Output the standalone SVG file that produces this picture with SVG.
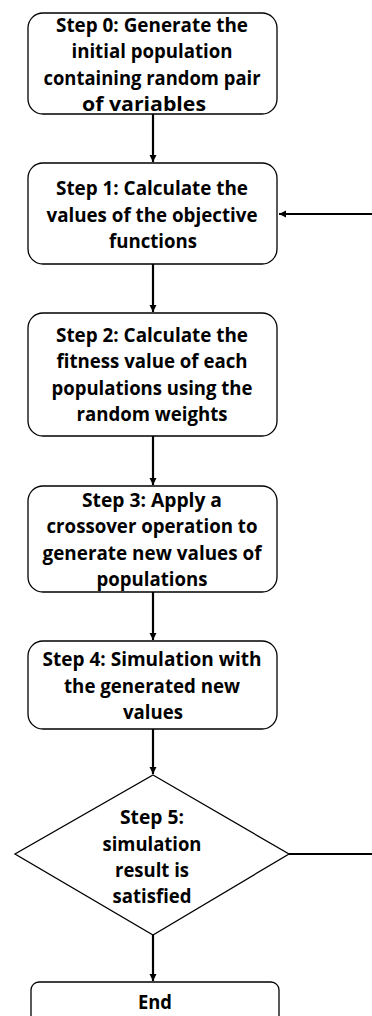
<svg xmlns="http://www.w3.org/2000/svg" width="372" height="1016" viewBox="0 0 372 1016">
<style>
.box{fill:#fff;stroke:#000;stroke-width:1.3}
.t{font-family:"Open Sans","Liberation Sans",sans-serif;font-weight:bold;font-size:19px;fill:#000;text-anchor:middle}
.c{fill:none;stroke:#000;stroke-width:2.2}
</style>
<defs>
<marker id="ah" markerWidth="8" markerHeight="8" refX="7" refY="4" orient="auto" markerUnits="userSpaceOnUse">
<path d="M0,0.5 L7,4 L0,7.5 Z" fill="#000"/>
</marker>
</defs>
<rect width="372" height="1016" fill="#fff"/>
<g id="connectors">
<line class="c" x1="153" y1="114" x2="153" y2="162" marker-end="url(#ah)"/>
<line class="c" x1="153" y1="264" x2="153" y2="312" marker-end="url(#ah)"/>
<line class="c" x1="153" y1="436" x2="153" y2="485" marker-end="url(#ah)"/>
<line class="c" x1="153" y1="592" x2="153" y2="640" marker-end="url(#ah)"/>
<line class="c" x1="153" y1="729" x2="153" y2="774" marker-end="url(#ah)"/>
<line class="c" x1="153" y1="935" x2="153" y2="981" marker-end="url(#ah)"/>
<line class="c" x1="289" y1="854" x2="372" y2="854"/>
<line class="c" x1="372" y1="214" x2="279" y2="214" marker-end="url(#ah)"/>
</g>
<g id="step0">
<rect class="box" x="28" y="13" width="249" height="101" rx="15"/>
<text class="t" x="152" y="32" textLength="192" lengthAdjust="spacingAndGlyphs">Step 0: Generate the</text>
<text class="t" x="152" y="58" textLength="161" lengthAdjust="spacingAndGlyphs">initial population</text>
<text class="t" x="152" y="85" textLength="217" lengthAdjust="spacingAndGlyphs">containing random pair</text>
<text class="t" x="144" y="111" textLength="124" lengthAdjust="spacingAndGlyphs">of variables</text>
</g>
<g id="step1">
<rect class="box" x="28" y="163" width="249" height="101" rx="15"/>
<text class="t" x="152" y="195" textLength="192" lengthAdjust="spacingAndGlyphs">Step 1: Calculate the</text>
<text class="t" x="152" y="222" textLength="211" lengthAdjust="spacingAndGlyphs">values of the objective</text>
<text class="t" x="153" y="248" textLength="88" lengthAdjust="spacingAndGlyphs">functions</text>
</g>
<g id="step2">
<rect class="box" x="28" y="313" width="249" height="123" rx="15"/>
<text class="t" x="152" y="342" textLength="192" lengthAdjust="spacingAndGlyphs">Step 2: Calculate the</text>
<text class="t" x="152" y="368" textLength="191" lengthAdjust="spacingAndGlyphs">fitness value of each</text>
<text class="t" x="152" y="395" textLength="201" lengthAdjust="spacingAndGlyphs">populations using the</text>
<text class="t" x="152" y="421" textLength="151" lengthAdjust="spacingAndGlyphs">random weights</text>
</g>
<g id="step3">
<rect class="box" x="28" y="486" width="249" height="106" rx="15"/>
<text class="t" x="152" y="507" textLength="140" lengthAdjust="spacingAndGlyphs">Step 3: Apply a</text>
<text class="t" x="152" y="533" textLength="211" lengthAdjust="spacingAndGlyphs">crossover operation to</text>
<text class="t" x="152" y="560" textLength="219" lengthAdjust="spacingAndGlyphs">generate new values of</text>
<text class="t" x="152" y="586" textLength="111" lengthAdjust="spacingAndGlyphs">populations</text>
</g>
<g id="step4">
<rect class="box" x="28" y="641" width="249" height="88" rx="15"/>
<text class="t" x="152" y="666" textLength="219" lengthAdjust="spacingAndGlyphs">Step 4: Simulation with</text>
<text class="t" x="152" y="693" textLength="176" lengthAdjust="spacingAndGlyphs">the generated new</text>
<text class="t" x="153" y="719" textLength="60" lengthAdjust="spacingAndGlyphs">values</text>
</g>
<g id="step5">
<polygon class="box" points="153,775 289,854 153,935 15,854"/>
<text class="t" x="152" y="824" textLength="64" lengthAdjust="spacingAndGlyphs">Step 5:</text>
<text class="t" x="152" y="851" textLength="99" lengthAdjust="spacingAndGlyphs">simulation</text>
<text class="t" x="152" y="877" textLength="74" lengthAdjust="spacingAndGlyphs">result is</text>
<text class="t" x="152" y="903" textLength="79" lengthAdjust="spacingAndGlyphs">satisfied</text>
</g>
<g id="end">
<rect class="box" x="31" y="982" width="248" height="60" rx="8"/>
<text class="t" x="155" y="1009" textLength="34" lengthAdjust="spacingAndGlyphs">End</text>
</g>
</svg>
